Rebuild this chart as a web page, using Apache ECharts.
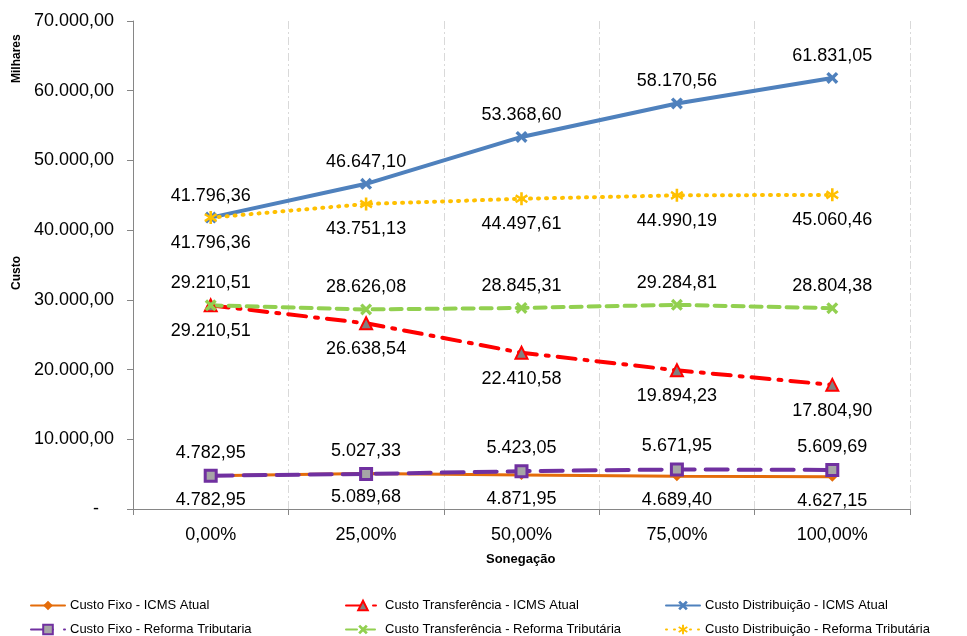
<!DOCTYPE html>
<html><head><meta charset="utf-8">
<script src="https://cdn.jsdelivr.net/npm/echarts@6/dist/echarts.min.js"></script>
<style>html,body{margin:0;padding:0;background:#fff}#c{width:967px;height:636px}</style>
</head><body><div id="c"></div>
<script>
const categories = ['0,00%','25,00%','50,00%','75,00%','100,00%'];
const fixoAtual = [4782.95, 5089.68, 4871.95, 4689.40, 4627.15];
const transfAtual = [29210.51, 26638.54, 22410.58, 19894.23, 17804.90];
const distAtual = [41796.36, 46647.10, 53368.60, 58170.56, 61831.05];
const fixoReforma = [4782.95, 5027.33, 5423.05, 5671.95, 5609.69];
const transfReforma = [29210.51, 28626.08, 28845.31, 29284.81, 28804.38];
const distReforma = [41796.36, 43751.13, 44497.61, 44990.19, 45060.46];
const names = ['Custo Fixo - ICMS Atual','Custo Transferência - ICMS Atual','Custo Distribuição - ICMS Atual',
  'Custo Fixo - Reforma Tributaria','Custo Transferência - Reforma Tributária','Custo Distribuição - Reforma Tributária'];

function fmt(v){
  const s = Math.abs(v).toFixed(2).split('.');
  const int = s[0].replace(/\B(?=(\d{3})+(?!\d))/g,'.');
  return int + ',' + s[1];
}
const FONT = 'Liberation Sans';
const X = 'path://M0,2 L2,0 L5,3 L8,0 L10,2 L7,5 L10,8 L8,10 L5,7 L2,10 L0,8 L3,5 Z';
const STAR = 'path://M4,0 L6,0 L6,3.5 L9,1.5 L10,3.2 L7,5 L10,6.8 L9,8.5 L6,6.5 L6,10 L4,10 L4,6.5 L1,8.5 L0,6.8 L3,5 L0,3.2 L1,1.5 L4,3.5 Z';

function mk(name, data, color, lineType, width, symbol, symSize, symStyle, pos, dist){
  return {
    name, type:'line', data, symbol, symbolSize:symSize,
    lineStyle:{color, width, type:lineType, cap:'round'},
    itemStyle: Object.assign({color}, symStyle),
    label:{show:true, position:pos, distance:dist, formatter:p=>fmt(p.value),
      fontFamily:FONT, fontSize:18, color:'#000'},
    emphasis:{disabled:true}, animation:false
  };
}
const series = [
  mk(names[0], fixoAtual, '#E46C0A', 'solid', 3, 'diamond', 10, {color:'#E46C0A'}, 'bottom', 10),
  mk(names[1], transfAtual, '#FF0000', [18,9,3,9], 4, 'triangle', 12, {color:'#808080', borderColor:'#FF0000', borderWidth:2}, 'bottom', 10),
  mk(names[2], distAtual, '#4F81BD', 'solid', 4, X, 12, {color:'#4F81BD'}, 'top', 7),
  mk(names[3], fixoReforma, '#7030A0', [22,11], 4, 'rect', 11, {color:'#A6A6A6', borderColor:'#7030A0', borderWidth:3}, 'top', 7),
  mk(names[4], transfReforma, '#92D050', [11,7], 4, X, 12, {color:'#92D050'}, 'top', 7),
  mk(names[5], distReforma, '#FFC000', [1,7], 4, STAR, 13, {color:'#FFC000'}, 'bottom', 10)
];

const legendPos = [[30,599],[345,599],[665,599],[30,623],[345,623],[665,623]];
const legends = names.map((n,i)=>({
  left:legendPos[i][0], top:legendPos[i][1], padding:0, itemWidth:34, itemHeight:12,
  textStyle:{fontFamily:FONT, fontSize:13, color:'#000'}, selectedMode:false, data:[n]
}));
const chart = echarts.init(document.getElementById('c'), null, {renderer:'canvas'});
chart.setOption({
  backgroundColor:'#fff',
  animation:false,
  grid:{left:133, right:57, top:21, bottom:127, containLabel:false},
  legend:legends,
  xAxis:{type:'category', data:categories, boundaryGap:true,
    axisLine:{lineStyle:{color:'#868686', width:1}},
    axisTick:{show:true, length:6, lineStyle:{color:'#868686'}},
    axisLabel:{fontFamily:FONT, fontSize:18, color:'#000', margin:17},
    splitLine:{show:true, lineStyle:{color:'#D9D9D9', type:[8,3,2,3], width:1}}},
  yAxis:{type:'value', min:0, max:70000, interval:10000,
    axisLine:{show:true, lineStyle:{color:'#868686', width:1}},
    axisTick:{show:true, length:6, inside:false, lineStyle:{color:'#868686'}},
    axisLabel:{fontFamily:FONT, fontSize:18, color:'#000', margin:19,
      formatter:v=> v===0 ? '-   ' : fmt(v)},
    splitLine:{show:false}},
  graphic:[
    {type:'text', x:11, y:83, rotation:Math.PI/2, style:{text:'Milhares', font:'bold 12px "Liberation Sans"', fill:'#000'}},
    {type:'text', x:11, y:290, rotation:Math.PI/2, style:{text:'Custo', font:'bold 12px "Liberation Sans"', fill:'#000'}},
    {type:'text', x:486, y:553, style:{text:'Sonegação', font:'bold 13px "Liberation Sans"', fill:'#000'}}
  ],
  series
});
</script></body></html>
